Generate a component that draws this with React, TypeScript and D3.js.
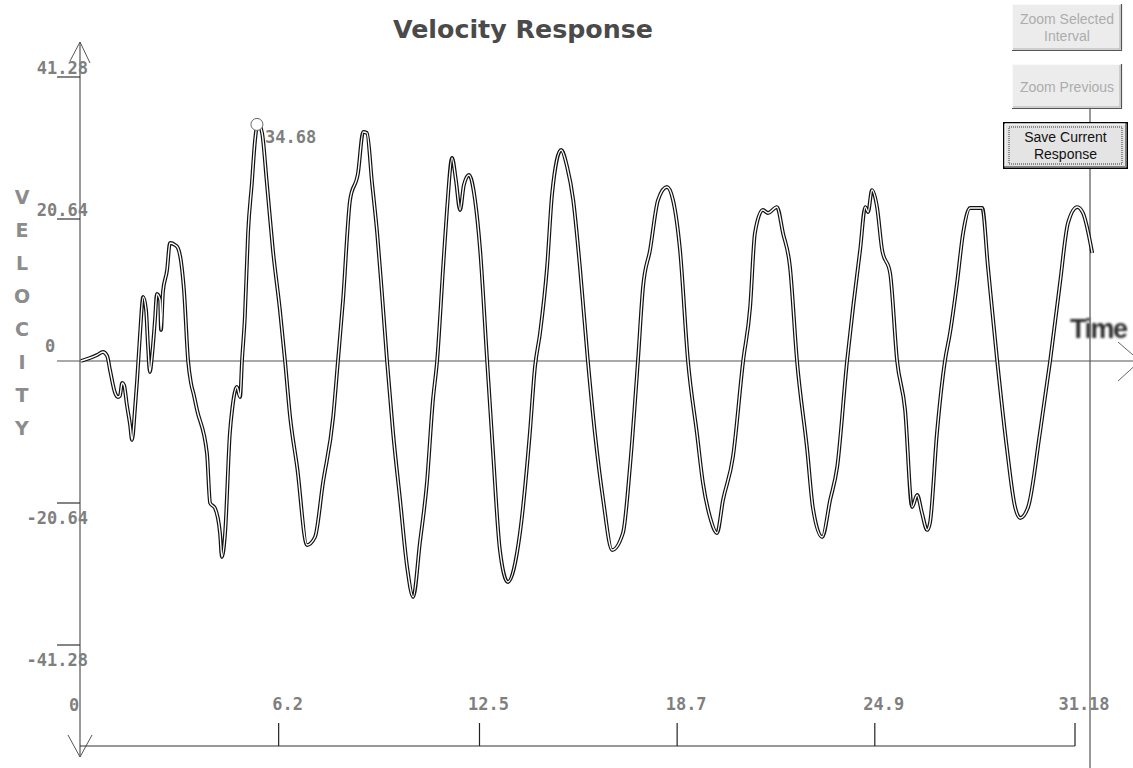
import React from "react";
import * as d3 from "d3";

// Sampled velocity response: time (s) and velocity
const timeValues = [
  0, 0.28, 0.5, 0.69, 0.82, 0.91, 1.07, 1.16, 1.22, 1.29, 1.35, 1.44, 1.54, 1.6, 1.69, 1.76, 1.85, 1.95,
  2.04, 2.1, 2.16, 2.23, 2.32, 2.38, 2.48, 2.51, 2.57, 2.7, 2.79, 2.95, 3.04, 3.14, 3.23, 3.36, 3.45, 3.54,
  3.64, 3.95, 4.05, 4.2, 4.36, 4.42, 4.52, 4.67, 4.74, 4.89, 4.99, 5.05, 5.14, 5.24, 5.36, 5.46, 5.55, 5.68,
  5.83, 6.02, 6.24, 6.4, 6.56, 6.78, 7.09, 7.34, 7.59, 7.91, 8.06, 8.22, 8.44, 8.69, 8.85, 8.97, 9.13, 9.29,
  9.44, 9.6, 9.79, 10.01, 10.23, 10.42, 10.63, 10.85, 11.04, 11.17, 11.36, 11.48, 11.64, 11.76, 11.89, 12.01,
  12.17, 12.36, 12.52, 12.74, 12.92, 13.14, 13.39, 13.77, 14.08, 14.24, 14.4, 14.62, 14.78, 15.06, 15.25,
  15.44, 15.65, 15.9, 16.12, 16.38, 16.66, 17.0, 17.22, 17.47, 17.63, 17.85, 18.1, 18.38, 18.57, 18.79,
  19.04, 19.32, 19.51, 19.73, 19.95, 20.14, 20.45, 20.77, 20.99, 21.14, 21.39, 21.55, 21.83, 22.02, 22.24,
  22.46, 22.78, 22.96, 23.25, 23.5, 23.72, 24.03, 24.22, 24.44, 24.6, 24.69, 24.81, 24.97, 25.13, 25.38,
  25.6, 25.85, 26.07, 26.23, 26.38, 26.54, 26.63, 26.85, 27.1, 27.26, 27.48, 27.67, 27.89, 28.27, 28.45,
  28.74, 29.05, 29.3, 29.46, 29.71, 30.08, 30.4, 30.71, 30.96, 31.25, 31.43, 31.72,
];

const velocityValues = [
  0, 0.44, 0.87, 1.31, 0.73, -1.31, -4.65, -5.23, -5.09, -3.2, -3.49, -6.4, -9.3, -11.48, -7.12, -2.76, 3.78, 9.3,
  7.41, 2.33, -1.6, 0.87, 5.96, 9.74, 8.87, 4.51, 10.03, 13.23, 17.15, 16.86, 16.42, 14.39, 10.32, 0, -3.2, -4.94,
  -7.12, -13.37, -20.64, -21.37, -25.0, -28.49, -25.0, -10.47, -7.12, -3.78, -5.23, 0, 6.4, 18.6, 25.87, 32.12, 34.68, 33.14,
  25.87, 16.13, 7.41, 0, -8.14, -15.41, -26.75, -25.58, -17.73, -8.14, 0, 8.87, 23.4, 27.33, 33.29, 33.14, 25.87, 18.6,
  9.88, 0, -10.47, -20.2, -29.94, -34.3, -26.45, -17.73, -5.67, 0, 13.66, 21.95, 29.51, 26.31, 21.95, 25.58,
  27.04, 23.4, 16.13, 0, -12.94, -27.47, -32.12, -25.0, -10.47, -0.87, 4.07, 13.66, 24.42, 30.67, 28.2,
  23.4, 13.66, 0, -10.47, -20.2, -27.47, -25.0, -15.41, 0, 10.76, 16.13, 23.4, 25.29, 23.4, 16.13,
  0, -10.47, -17.73, -22.67, -25.0, -20.2, -13.95, 0, 7.85, 18.6, 21.95, 21.51, 22.38, 18.6, 13.66,
  0, -12.94, -21.37, -25.58, -20.2, -15.41, 0, 7.85, 16.13, 22.38, 21.66, 24.85, 22.38, 16.13, 12.79,
  0, -7.12, -21.22, -19.48, -22.09, -24.56, -23.55, -10.47, 0, 4.07, 11.34, 18.6, 22.24, 22.24, 13.66,
  0, -12.94, -21.22, -22.82, -21.22, -10.47, 0, 11.34, 20.06, 22.38, 21.51, 15.7,
];

const yTickValues = [41.28, 20.64, 0, -20.64, -41.28];
const yTickLabels = ["41.28", "20.64", "0", "-20.64", "-41.28"];
const xTickValues = [6.2, 12.5, 18.7, 24.9, 31.18];
const xTickLabels = ["6.2", "12.5", "18.7", "24.9", "31.18"];
const yAxisLetters = ["V", "E", "L", "O", "C", "I", "T", "Y"];
const peakTime = 5.55;
const peakValue = 34.68;
const buttonLines = [["Zoom Selected", "Interval"], ["Zoom Previous"], ["Save Current", "Response"]];

const W = 1133;
const H = 768;
const labelFont = "'DejaVu Sans Mono', 'Liberation Mono', monospace";
const labelColor = "#7f7f7f";

export default function App() {
  const x = d3.scaleLinear().domain([0, 31.18]).range([81, 1075]);
  const y = d3.scaleLinear().domain([-41.28, 41.28]).range([645, 77]);

  const points = timeValues.map((t, i) => [t, velocityValues[i]] as [number, number]);
  const line = d3
    .line<[number, number]>()
    .x((d) => x(d[0]))
    .y((d) => y(d[1]))
    .curve(d3.curveMonotoneX);
  const pathD = line(points) || "";

  const axisX = 80;
  const zeroY = y(0);
  const bottomY = 746;

  const buttons = [
    { x: 1012, y: 4, w: 110, h: 47, enabled: false },
    { x: 1012, y: 64, w: 110, h: 45, enabled: false },
    { x: 1003, y: 122, w: 125, h: 47, enabled: true },
  ];

  return (
    <div style={{ position: "fixed", left: 0, top: 0, width: W, height: H, background: "#fff" }}>
      <svg width={W} height={H} viewBox={`0 0 ${W} ${H}`} style={{ display: "block" }}>
        <defs>
          <filter id="smear" x="-10%" y="-30%" width="120%" height="160%">
            <feGaussianBlur stdDeviation="0.8" />
          </filter>
        </defs>
        <rect x={0} y={0} width={W} height={H} fill="#fff" />

        {/* title */}
        <text
          x={523}
          y={38}
          textAnchor="middle"
          fontFamily="'DejaVu Sans', sans-serif"
          fontWeight="bold"
          fontSize={24}
          fill="#4a4a4a"
          textLength={260}
          lengthAdjust="spacingAndGlyphs"
        >
          Velocity Response
        </text>

        {/* vertical axis with arrows at both ends */}
        <line x1={axisX} y1={42} x2={axisX} y2={757} stroke="#555" strokeWidth={1.2} />
        <polyline points={`${axisX - 10},61 ${axisX},42 ${axisX + 10},63`} fill="none" stroke="#555" strokeWidth={1} />
        <polyline points={`${axisX - 12},735 ${axisX},757 ${axisX + 12},735`} fill="none" stroke="#555" strokeWidth={1} />

        {/* zero line with Time arrow */}
        <line x1={57} y1={zeroY} x2={W} y2={zeroY} stroke="#555" strokeWidth={1.2} />
        <line x1={1118} y1={342} x2={1140} y2={zeroY} stroke="#666" strokeWidth={1} />
        <line x1={1118} y1={381} x2={1140} y2={zeroY} stroke="#666" strokeWidth={1} />
        <text
          x={1070}
          y={338}
          fontFamily="'Liberation Sans', Arial, sans-serif"
          fontWeight="bold"
          fontSize={27}
          letterSpacing={-1.5}
          fill="#2e2e2e"
          filter="url(#smear)"
        >
          Time
        </text>

        {/* right boundary line */}
        <line x1={1090} y1={108} x2={1090} y2={H} stroke="#555" strokeWidth={1.2} />

        {/* y ticks and labels */}
        {yTickValues.map((v, i) => {
          const ty = y(v);
          const isZero = v === 0;
          return (
            <g key={`yt${i}`}>
              {!isZero && <line x1={57} y1={ty} x2={axisX} y2={ty} stroke="#333" strokeWidth={1.2} />}
              <text
                x={isZero ? 50 : 88}
                y={isZero ? ty - 9 : v > 0 ? ty - 3 : ty + 21}
                textAnchor={isZero ? "middle" : "end"}
                fontFamily={labelFont}
                fontWeight="bold"
                fontSize={17}
                fill={labelColor}
              >
                {yTickLabels[i]}
              </text>
            </g>
          );
        })}

        {/* vertical axis title */}
        {yAxisLetters.map((ch, i) => (
          <text
            key={`yl${i}`}
            x={22}
            y={204 + i * 33}
            textAnchor="middle"
            fontFamily="'DejaVu Sans', sans-serif"
            fontWeight="bold"
            fontSize={19}
            fill="#8c8c8c"
          >
            {ch}
          </text>
        ))}

        {/* bottom time axis */}
        <line x1={axisX} y1={bottomY} x2={x(31.18)} y2={bottomY} stroke="#333" strokeWidth={1.2} />
        {xTickValues.map((v, i) => (
          <g key={`xt${i}`}>
            <line x1={x(v)} y1={723} x2={x(v)} y2={bottomY} stroke="#222" strokeWidth={1.2} />
            <text
              x={x(v) + 9}
              y={710}
              textAnchor="middle"
              fontFamily={labelFont}
              fontWeight="bold"
              fontSize={17}
              fill={labelColor}
            >
              {xTickLabels[i]}
            </text>
          </g>
        ))}
        <text x={74} y={711} textAnchor="middle" fontFamily={labelFont} fontWeight="bold" fontSize={17} fill={labelColor}>
          0
        </text>

        {/* response curve drawn as a hollow double line */}
        <path d={pathD} fill="none" stroke="#111" strokeWidth={3.8} strokeLinejoin="round" />
        <path d={pathD} fill="none" stroke="#fff" strokeWidth={1.4} strokeLinejoin="round" />

        {/* peak marker */}
        <circle cx={x(peakTime) - 1} cy={y(peakValue) + 2} r={6} fill="#fff" stroke="#666" strokeWidth={1} />
        <text x={265} y={143} fontFamily={labelFont} fontWeight="bold" fontSize={17} fill={labelColor}>
          {peakValue.toFixed(2)}
        </text>

        {/* control buttons */}
        {buttons.map((b, i) => {
          const lines = buttonLines[i];
          const cy = b.y + b.h / 2;
          const lh = 17;
          const startY = cy - ((lines.length - 1) * lh) / 2 + 5;
          return (
            <g key={`btn${i}`}>
              <rect x={b.x} y={b.y} width={b.w} height={b.h} fill={b.enabled ? "#e4e4e4" : "#ececec"} />
              {b.enabled ? (
                <>
                  <rect x={b.x + 0.75} y={b.y + 0.75} width={b.w - 1.5} height={b.h - 1.5} fill="none" stroke="#000" strokeWidth={1.5} />
                  <polyline
                    points={`${b.x + 2},${b.y + b.h - 3} ${b.x + 2},${b.y + 2} ${b.x + b.w - 3},${b.y + 2}`}
                    fill="none"
                    stroke="#fff"
                    strokeWidth={1}
                  />
                  <polyline
                    points={`${b.x + 2},${b.y + b.h - 2.5} ${b.x + b.w - 2.5},${b.y + b.h - 2.5} ${b.x + b.w - 2.5},${b.y + 2}`}
                    fill="none"
                    stroke="#808080"
                    strokeWidth={1}
                  />
                  <rect
                    x={b.x + 6}
                    y={b.y + 5}
                    width={b.w - 12}
                    height={b.h - 10}
                    fill="none"
                    stroke="#333"
                    strokeWidth={1}
                    strokeDasharray="1,1"
                  />
                </>
              ) : (
                <>
                  <polyline
                    points={`${b.x + 0.5},${b.y + b.h} ${b.x + 0.5},${b.y + 0.5} ${b.x + b.w},${b.y + 0.5}`}
                    fill="none"
                    stroke="#fafafa"
                    strokeWidth={1}
                  />
                  <polyline
                    points={`${b.x},${b.y + b.h - 0.5} ${b.x + b.w - 0.5},${b.y + b.h - 0.5} ${b.x + b.w - 0.5},${b.y}`}
                    fill="none"
                    stroke="#555"
                    strokeWidth={1.2}
                  />
                  <polyline
                    points={`${b.x + 1},${b.y + b.h - 2} ${b.x + b.w - 2},${b.y + b.h - 2} ${b.x + b.w - 2},${b.y + 1}`}
                    fill="none"
                    stroke="#b0b0b0"
                    strokeWidth={1}
                  />
                </>
              )}
              {lines.map((s, j) => (
                <text
                  key={j}
                  x={b.x + b.w / 2}
                  y={startY + j * lh}
                  textAnchor="middle"
                  fontFamily="'Liberation Sans', Arial, sans-serif"
                  fontSize={14}
                  fill={b.enabled ? "#111" : "#acacac"}
                >
                  {s}
                </text>
              ))}
            </g>
          );
        })}
      </svg>
    </div>
  );
}
